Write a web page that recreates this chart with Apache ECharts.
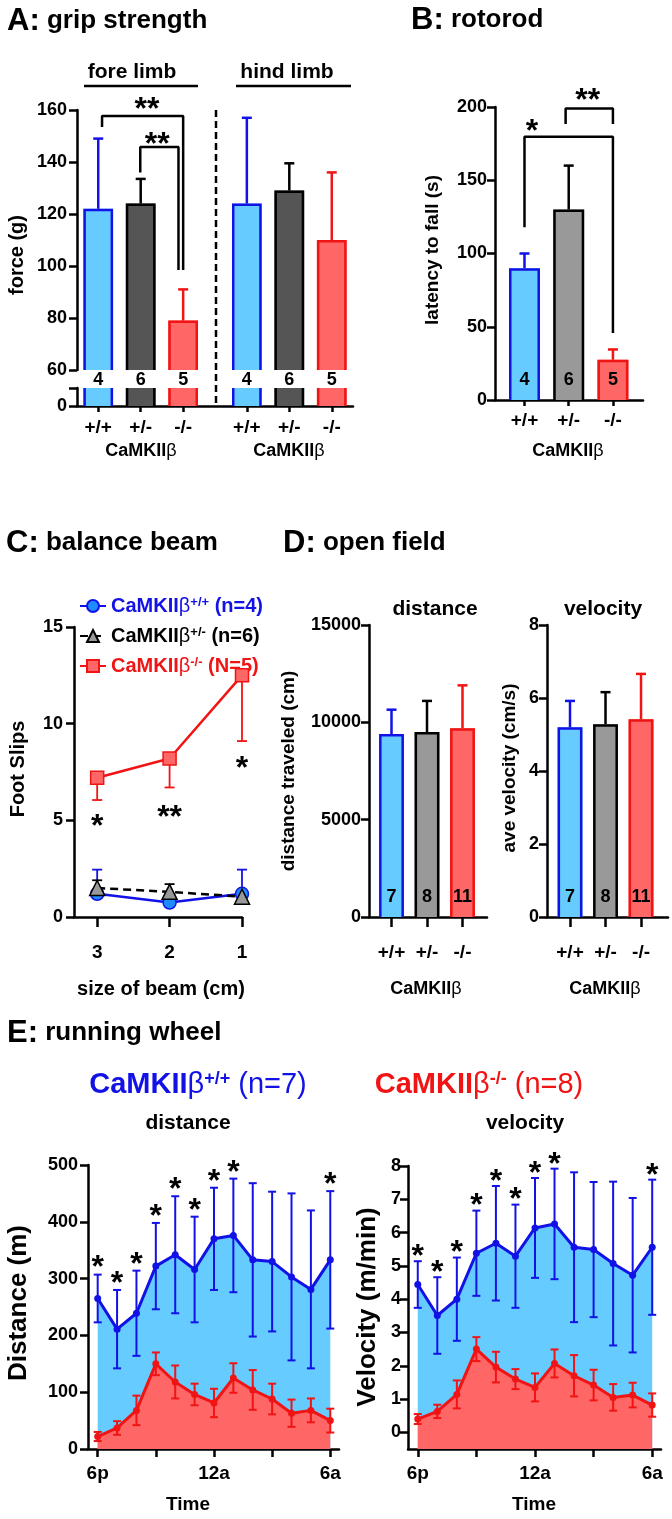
<!DOCTYPE html>
<html><head><meta charset="utf-8">
<script src="https://cdn.jsdelivr.net/npm/echarts@6/dist/echarts.min.js"></script>
<style>html,body{margin:0;padding:0;background:#fff}#c{width:672px;height:1519px}</style>
</head><body><div id="c"></div>
<script>
// ================= DATA =================
// A: grip strength (force, g)
const gripX = [0, 1, 2, 3.5, 4.5, 5.5];
const gripLabels = ['+/+', '+/-', '-/-', '+/+', '+/-', '-/-'];
const gripMean = [122, 124, 79, 124, 129, 110];
const gripSem = [27, 9.5, 12, 33, 10.5, 26];
const gripN = [4, 6, 5, 4, 6, 5];
// B: rotorod (latency to fall, s)
const genoX = [0, 1, 2];
const genoLabels = ['+/+', '+/-', '-/-'];
const rotoMean = [90, 130, 27.5];
const rotoSem = [10, 30, 7];
const rotoN = [4, 6, 5];
// C: balance beam (foot slips)
const beamSizes = [3, 2, 1];
const slipsWT = [1.2, 0.75, 1.2];
const slipsWTErr = [1.25, 0.3, 1.25];
const slipsHet = [1.5, 1.3, 1.05];
const slipsHetErr = [0.4, 0.4, 0];
const slipsKO = [7.2, 8.2, 12.5];
const slipsKOErr = [1.15, 1.5, 3.4];
// D: open field
const ofDist = [9400, 9500, 9700];
const ofDistSem = [1250, 1600, 2200];
const ofVel = [5.2, 5.28, 5.42];
const ofVelSem = [0.72, 0.88, 1.24];
const ofN = [7, 8, 11];
// E: running wheel
const hours = [0, 1, 2, 3, 4, 5, 6, 7, 8, 9, 10, 11, 12];
const timeTickHours = [0, 3, 6, 9, 12];
const timeTickLabels = ['6p', '', '12a', '', '6a'];
const wheelDistWT = [265, 211, 239, 322, 342, 316, 370, 376, 333, 330, 303, 281, 333];
const wheelDistWTErr = [42, 69, 75, 76, 103, 93, 90, 100, 135, 123, 147, 139, 121];
const wheelDistKO = [22, 37, 68, 150, 118, 96, 81, 125, 104, 88, 63, 68, 50];
const wheelDistKOErr = [8, 12, 26, 20, 29, 19, 25, 26, 35, 27, 24, 21, 21];
const wheelVelWT = [4.44, 3.51, 4.0, 5.38, 5.68, 5.29, 6.14, 6.26, 5.56, 5.49, 5.07, 4.72, 5.56];
const wheelVelWTErr = [0.70, 1.15, 1.25, 1.28, 1.72, 1.55, 1.5, 1.66, 2.25, 2.03, 2.46, 2.32, 2.03];
const wheelVelKO = [0.40, 0.63, 1.14, 2.5, 1.96, 1.6, 1.35, 2.07, 1.7, 1.42, 1.05, 1.12, 0.82];
const wheelVelKOErr = [0.15, 0.2, 0.42, 0.36, 0.46, 0.3, 0.42, 0.42, 0.62, 0.46, 0.4, 0.37, 0.35];
const wheelSig = [1, 1, 1, 1, 1, 1, 1, 1, 0, 0, 0, 0, 1];
// significance annotations
const gripBrackets = [[[0.09, 153.5], [0.09, 157.7], [2.0, 157.7], [2.0, 98.5]], [[0.99, 136], [0.99, 145.8], [1.89, 145.8], [1.89, 98.5]]];
const gripStars = [[1.15, 162.5, '**'], [1.39, 149, '**']];
const rotoBrackets = [[[0, 118], [0, 179.7], [2, 179.7], [2, 45.7]], [[0.93, 188.4], [0.93, 199], [2, 199], [2, 188.4]]];
const rotoStars = [[0.17, 187.7, '*'], [1.43, 209, '**']];
const beamStars = [[3, 5.0, '*'], [2, 5.5, '**'], [1, 8.0, '*']];

// ================= STYLE =================
const FF = '"Liberation Sans", Arial, Helvetica, sans-serif';
const BLUE = '#1212E6', BLUE_FILL = '#66CCFF', RED = '#F01414', RED_FILL = '#FF6666';
const DARK_GRAY = '#555555', MID_GRAY = '#999999';
const LW = 2.5;

function grid(left, top, width, height) {
  return { left, top, width, height, containLabel: false, outerBoundsMode: 'none' };
}
const grids = [
  grid(77, 110, 276, 260),   // 0 A upper
  grid(77, 388, 276, 18),    // 1 A lower
  grid(495, 107, 148, 293),  // 2 B
  grid(74, 627, 168, 290),   // 3 C
  grid(369, 625, 118, 292),  // 4 D distance
  grid(547, 625, 121, 292),  // 5 D velocity
  grid(88, 1165, 251, 284),  // 6 E distance
  grid(408, 1166, 253, 283)  // 7 E velocity
];

function axisBase(o) {
  const a = {
    type: 'value', gridIndex: o.gi, min: o.min, max: o.max, inverse: !!o.inverse,
    show: o.show !== false,
    axisLine: { show: true, onZero: false, lineStyle: { color: '#000', width: LW } },
    axisTick: { show: o.tick !== false, length: o.tickLen || 8, lineStyle: { color: '#000', width: LW } },
    axisLabel: { show: o.label !== false, color: '#000', fontFamily: FF, fontWeight: 'bold', fontSize: o.fs || 18, margin: o.margin || 10,
      formatter: o.fmt || (v => String(v)) },
    splitLine: { show: false }
  };
  if (o.interval) a.interval = o.interval;
  if (o.tickVals) a.axisTick.customValues = o.tickVals;
  if (o.labelVals) a.axisLabel.customValues = o.labelVals;
  return a;
}
const gripFmt = v => { const i = gripX.indexOf(v); return i >= 0 ? gripLabels[i] : ''; };
const genoFmt = v => { const i = genoX.indexOf(v); return i >= 0 ? genoLabels[i] : ''; };
const timeFmt = v => { const i = timeTickHours.indexOf(v); return i >= 0 ? timeTickLabels[i] : ''; };

const xAxes = [
  axisBase({ gi: 0, min: -0.5, max: 6, show: false }),
  axisBase({ gi: 1, min: -0.5, max: 6, tickVals: gripX, labelVals: gripX, fmt: gripFmt, tickLen: 6, margin: 12, fs: 19 }),
  axisBase({ gi: 2, min: -0.667, max: 2.68, tickVals: genoX, labelVals: genoX, fmt: genoFmt, tickLen: 6, margin: 11, fs: 19 }),
  axisBase({ gi: 3, min: 1, max: 3.32, inverse: true, tickVals: beamSizes, labelVals: beamSizes, tickLen: 10, margin: 26, fs: 19 }),
  axisBase({ gi: 4, min: -0.634, max: 2.69, tickVals: genoX, labelVals: genoX, fmt: genoFmt, tickLen: 10, margin: 26, fs: 19 }),
  axisBase({ gi: 5, min: -0.648, max: 2.76, tickVals: genoX, labelVals: genoX, fmt: genoFmt, tickLen: 10, margin: 26, fs: 19 }),
  axisBase({ gi: 6, min: -0.5, max: 12.45, tickVals: timeTickHours, labelVals: [0, 6, 12], fmt: timeFmt, tickLen: 8, margin: 15, fs: 19 }),
  axisBase({ gi: 7, min: -0.5, max: 12.45, tickVals: timeTickHours, labelVals: [0, 6, 12], fmt: timeFmt, tickLen: 8, margin: 15, fs: 19 })
];
const velTicks = [0, 1, 2, 3, 4, 5, 6, 7, 8];
const yAxes = [
  axisBase({ gi: 0, min: 60, max: 160, interval: 20, margin: 10 }),
  axisBase({ gi: 1, min: 0, max: 7, tickVals: [0, 7], labelVals: [0], margin: 10 }),
  axisBase({ gi: 2, min: 0, max: 200, interval: 50, margin: 8 }),
  axisBase({ gi: 3, min: 0, max: 15, interval: 5, margin: 11 }),
  axisBase({ gi: 4, min: 0, max: 15000, interval: 5000, margin: 8 }),
  axisBase({ gi: 5, min: 0, max: 8, interval: 2, margin: 8 }),
  axisBase({ gi: 6, min: 0, max: 500, interval: 100, margin: 10 }),
  axisBase({ gi: 7, min: -0.5, max: 8, tickVals: velTicks, labelVals: velTicks, margin: 7 })
];

// ================= SERIES HELPERS =================
function makeBars(gi, xs, means, sems, ns, grayFill, nOffset) {
  const fills = [BLUE_FILL, grayFill, RED_FILL], strokes = [BLUE, '#000', RED];
  return {
    type: 'custom', xAxisIndex: gi, yAxisIndex: gi, silent: true, z: 3,
    data: xs.map((x, i) => [x, means[i], sems[i]]),
    renderItem(params, api) {
      const i = params.dataIndex, g = i % 3;
      const cs = params.coordSys;
      const x = api.value(0), y = api.value(1), e = api.value(2);
      const c = api.coord([x, y]);
      const w = api.size([0.7, 0])[0];
      const bottom = cs.y + cs.height;
      const clipped = c[1] < cs.y;
      const ty = clipped ? cs.y : c[1];
      const h = LW / 2, xl = c[0] - w / 2, xr = c[0] + w / 2;
      const st = { stroke: strokes[g], lineWidth: LW, fill: null };
      const ch = [{ type: 'rect', shape: { x: xl, y: ty, width: w, height: bottom - ty }, style: { fill: fills[g] } }];
      if (clipped) {
        ch.push({ type: 'line', shape: { x1: xl + h, y1: ty, x2: xl + h, y2: bottom }, style: st });
        ch.push({ type: 'line', shape: { x1: xr - h, y1: ty, x2: xr - h, y2: bottom }, style: st });
      } else {
        ch.push({ type: 'polyline', shape: { points: [[xl + h, bottom], [xl + h, ty + h], [xr - h, ty + h], [xr - h, bottom]] }, style: st });
        if (e > 0) {
          const et = api.coord([x, y + e])[1];
          ch.push({ type: 'line', shape: { x1: c[0], y1: ty, x2: c[0], y2: et }, style: st });
          ch.push({ type: 'line', shape: { x1: c[0] - 5, y1: et, x2: c[0] + 5, y2: et }, style: st });
        }
      }
      if (ns) ch.push({ type: 'text', x: c[0], y: bottom + nOffset, style: { text: String(ns[i]), fill: '#000', fontFamily: FF, fontWeight: 'bold', fontSize: 18, align: 'center', verticalAlign: 'middle' } });
      return { type: 'group', children: ch };
    }
  };
}
function makeErr(gi, xs, ys, up, down, color, cap, lw, z) {
  return {
    type: 'custom', xAxisIndex: gi, yAxisIndex: gi, silent: true, z: z,
    data: xs.map((x, i) => [x, ys[i], up ? up[i] : 0, down ? down[i] : 0]),
    renderItem(params, api) {
      const x = api.value(0), y = api.value(1), u = api.value(2), d = api.value(3);
      const pu = api.coord([x, y + u]), pd = api.coord([x, y - d]);
      const st = { stroke: color, lineWidth: lw };
      const ch = [{ type: 'line', shape: { x1: pu[0], y1: pu[1], x2: pd[0], y2: pd[1] }, style: st }];
      if (u > 0) ch.push({ type: 'line', shape: { x1: pu[0] - cap / 2, y1: pu[1], x2: pu[0] + cap / 2, y2: pu[1] }, style: st });
      if (d > 0) ch.push({ type: 'line', shape: { x1: pd[0] - cap / 2, y1: pd[1], x2: pd[0] + cap / 2, y2: pd[1] }, style: st });
      return { type: 'group', children: ch };
    }
  };
}
const STAR_FS = 32;
function makeText(gi, items) {
  return {
    type: 'custom', xAxisIndex: gi, yAxisIndex: gi, silent: true, z: 8,
    data: items.map(a => [a[0], a[1]]),
    renderItem(params, api) {
      const c = api.coord([api.value(0), api.value(1)]);
      return { type: 'text', x: c[0], y: c[1] + STAR_FS * 0.22, style: { text: items[params.dataIndex][2], fill: '#000', fontFamily: FF, fontWeight: 'bold', fontSize: STAR_FS, align: 'center', verticalAlign: 'middle' } };
    }
  };
}
function makeBracket(gi, pts) {
  return { type: 'line', xAxisIndex: gi, yAxisIndex: gi, data: pts, symbol: 'none', clip: false, silent: true, z: 7,
    lineStyle: { color: '#000', width: LW }, animation: false };
}
function wheelLine(gi, ys, color, fill, z) {
  return { type: 'line', xAxisIndex: gi, yAxisIndex: gi, data: hours.map((h, i) => [h, ys[i]]), z: z,
    symbol: 'circle', symbolSize: 7, silent: true,
    lineStyle: { color, width: 3 }, itemStyle: { color },
    areaStyle: { color: fill, opacity: 1, origin: 'start' } };
}
function wheelStars(gi, means, errs, gapPx) {
  const pts = hours.filter((h, i) => wheelSig[i]).map(h => [h, means[h] + errs[h]]);
  return {
    type: 'custom', xAxisIndex: gi, yAxisIndex: gi, silent: true, z: 8,
    data: pts,
    renderItem(params, api) {
      const c = api.coord([api.value(0), api.value(1)]);
      return { type: 'text', x: c[0], y: c[1] - gapPx + STAR_FS * 0.22, style: { text: '*', fill: '#000', fontFamily: FF, fontWeight: 'bold', fontSize: STAR_FS, align: 'center', verticalAlign: 'middle' } };
    }
  };
}

const cNames = ['CaMKIIβ+/+ (n=4)', 'CaMKIIβ+/- (n=6)', 'CaMKIIβ-/- (N=5)'];
const cSup = ['+/+', '+/-', '-/-'];
const cN = [' (n=4)', ' (n=6)', ' (N=5)'];

const series = [
  // A
  makeBars(0, gripX, gripMean, gripSem, gripN, DARK_GRAY, 10),
  makeBars(1, gripX, gripMean, gripSem, null, DARK_GRAY, 0),
  makeBracket(0, gripBrackets[0]), makeBracket(0, gripBrackets[1]),
  makeText(0, gripStars),
  // B
  makeBars(2, genoX, rotoMean, rotoSem, rotoN, MID_GRAY, -20),
  makeBracket(2, rotoBrackets[0]), makeBracket(2, rotoBrackets[1]),
  makeText(2, rotoStars),
  // C
  makeErr(3, beamSizes, slipsKO, null, slipsKOErr, RED, 10, 1.8, 1),
  makeErr(3, beamSizes, slipsWT, slipsWTErr, null, BLUE, 10, 1.8, 1),
  makeErr(3, beamSizes, slipsHet, slipsHetErr, null, '#000', 10, 1.8, 1),
  { name: cNames[0], type: 'line', xAxisIndex: 3, yAxisIndex: 3, z: 2, data: beamSizes.map((b, i) => [b, slipsWT[i]]),
    symbol: 'circle', symbolSize: 13, itemStyle: { color: '#1E8CFF', borderColor: BLUE, borderWidth: 1.5 }, lineStyle: { color: BLUE, width: 2.5 } },
  { name: cNames[1], type: 'line', xAxisIndex: 3, yAxisIndex: 3, z: 3, data: beamSizes.map((b, i) => [b, slipsHet[i]]),
    symbol: 'triangle', symbolSize: 15, itemStyle: { color: MID_GRAY, borderColor: '#000', borderWidth: 1.5 }, lineStyle: { color: '#000', width: 2.5, type: [8, 5] } },
  { name: cNames[2], type: 'line', xAxisIndex: 3, yAxisIndex: 3, z: 4, data: beamSizes.map((b, i) => [b, slipsKO[i]]),
    symbol: 'rect', symbolSize: 13, itemStyle: { color: RED_FILL, borderColor: RED, borderWidth: 1.5 }, lineStyle: { color: RED, width: 2.5 } },
  makeText(3, beamStars),
  // D
  makeBars(4, genoX, ofDist, ofDistSem, ofN, MID_GRAY, -20),
  makeBars(5, genoX, ofVel, ofVelSem, ofN, MID_GRAY, -20),
  // E distance
  wheelLine(6, wheelDistWT, BLUE, BLUE_FILL, 2),
  makeErr(6, hours, wheelDistWT, wheelDistWTErr, wheelDistWTErr, BLUE, 8, 2, 3),
  wheelLine(6, wheelDistKO, RED, RED_FILL, 4),
  makeErr(6, hours, wheelDistKO, wheelDistKOErr, wheelDistKOErr, RED, 8, 2, 5),
  wheelStars(6, wheelDistWT, wheelDistWTErr, 13),
  // E velocity
  wheelLine(7, wheelVelWT, BLUE, BLUE_FILL, 2),
  makeErr(7, hours, wheelVelWT, wheelVelWTErr, wheelVelWTErr, BLUE, 8, 2, 3),
  wheelLine(7, wheelVelKO, RED, RED_FILL, 4),
  makeErr(7, hours, wheelVelKO, wheelVelKOErr, wheelVelKOErr, RED, 8, 2, 5),
  wheelStars(7, wheelVelWT, wheelVelWTErr, 11)
];

// ================= TEXT / DECORATION =================
function T(x, y, text, o = {}) {
  return { type: 'text', x, y, rotation: o.rot || 0, silent: true,
    style: { text, fill: o.color || '#000', fontFamily: FF, fontWeight: o.weight || 'bold', fontSize: o.fs || 18,
      align: o.align || 'center', verticalAlign: 'middle', rich: o.rich } };
}
function L(x1, y1, x2, y2, dash) {
  return { type: 'line', silent: true, shape: { x1, y1, x2, y2 }, style: { stroke: '#000', lineWidth: LW, lineDash: dash || null } };
}
const titleRich = {
  L: { fontFamily: FF, fontWeight: 'bold', fontSize: 31 },
  t: { fontFamily: FF, fontWeight: 'bold', fontSize: 26 }
};
const camRich = (fs) => ({
  b: { fontFamily: FF, fontWeight: 'bold', fontSize: fs },
  g: { fontFamily: FF, fontWeight: 'normal', fontSize: fs }
});
const headRich = (color) => ({
  b: { fontFamily: FF, fontWeight: 'bold', fontSize: 29, fill: color },
  g: { fontFamily: FF, fontWeight: 'normal', fontSize: 29, fill: color },
  s: { fontFamily: FF, fontWeight: 'bold', fontSize: 18, fill: color, verticalAlign: 'top' },
  n: { fontFamily: FF, fontWeight: 'normal', fontSize: 29, fill: color }
});
const cam = '{b|CaMKII}{g|β}';
const graphics = [
  T(7, 21, '{L|A:}{t| grip strength}', { align: 'left', rich: titleRich }),
  T(411, 20, '{L|B:}{t| rotorod}', { align: 'left', rich: titleRich }),
  T(6, 543, '{L|C:}{t| balance beam}', { align: 'left', rich: titleRich }),
  T(283, 543, '{L|D:}{t| open field}', { align: 'left', rich: titleRich }),
  T(7, 1033, '{L|E:}{t| running wheel}', { align: 'left', rich: titleRich }),
  T(132, 72, 'fore limb', { fs: 21 }), L(84, 86, 198, 86),
  T(287, 72, 'hind limb', { fs: 21 }), L(236, 86, 351, 86),
  L(216, 110, 216, 406, [7, 4]),
  T(17, 255, 'force (g)', { fs: 20, rot: Math.PI / 2 }),
  T(433, 250, 'latency to fall (s)', { fs: 19, rot: Math.PI / 2 }),
  T(18, 769, 'Foot Slips', { fs: 20, rot: Math.PI / 2 }),
  T(289, 771, 'distance traveled (cm)', { fs: 19, rot: Math.PI / 2 }),
  T(510, 768, 'ave velocity (cm/s)', { fs: 19, rot: Math.PI / 2 }),
  T(19, 1303, 'Distance (m)', { fs: 26, rot: Math.PI / 2 }),
  T(368, 1307, 'Velocity (m/min)', { fs: 26, rot: Math.PI / 2 }),
  T(141, 451, cam, { rich: camRich(18) }),
  T(289, 451, cam, { rich: camRich(18) }),
  T(568, 451, cam, { rich: camRich(18) }),
  T(426, 989, cam, { rich: camRich(18) }),
  T(605, 989, cam, { rich: camRich(18) }),
  T(161, 989, 'size of beam (cm)', { fs: 20 }),
  T(435, 609, 'distance', { fs: 21 }),
  T(603, 609, 'velocity', { fs: 21 }),
  T(198, 1085, '{b|CaMKII}{g|β}{s|+/+}{n| (n=7)}', { rich: headRich(BLUE) }),
  T(479, 1085, '{b|CaMKII}{g|β}{s|-/-}{n| (n=8)}', { rich: headRich(RED) }),
  T(188, 1123, 'distance', { fs: 21 }),
  T(525, 1123, 'velocity', { fs: 21 }),
  T(188, 1505, 'Time', { fs: 19 }),
  T(534, 1505, 'Time', { fs: 19 })
];

const option = {
  animation: false,
  backgroundColor: '#fff',
  grid: grids,
  xAxis: xAxes,
  yAxis: yAxes,
  legend: {
    show: true, orient: 'vertical', left: 79, top: 596, padding: 0, itemGap: 10,
    itemWidth: 26, itemHeight: 15, selectedMode: false,
    data: cNames.map((n, i) => ({ name: n, textStyle: { color: [BLUE, '#000', RED][i] } })),
    formatter: name => {
      const i = cNames.indexOf(name);
      return '{b|CaMKII}{g|β}{s|' + cSup[i] + '}{n|' + cN[i] + '}';
    },
    textStyle: {
      fontFamily: FF, fontWeight: 'bold', fontSize: 20,
      rich: {
        b: { fontFamily: FF, fontWeight: 'bold', fontSize: 20 },
        g: { fontFamily: FF, fontWeight: 'normal', fontSize: 20 },
        s: { fontFamily: FF, fontWeight: 'bold', fontSize: 13, verticalAlign: 'top' },
        n: { fontFamily: FF, fontWeight: 'bold', fontSize: 20 }
      }
    }
  },
  graphic: { elements: graphics },
  series
};
const chart = echarts.init(document.getElementById('c'), null, { renderer: 'canvas' });
chart.setOption(option);
</script>
</body></html>
